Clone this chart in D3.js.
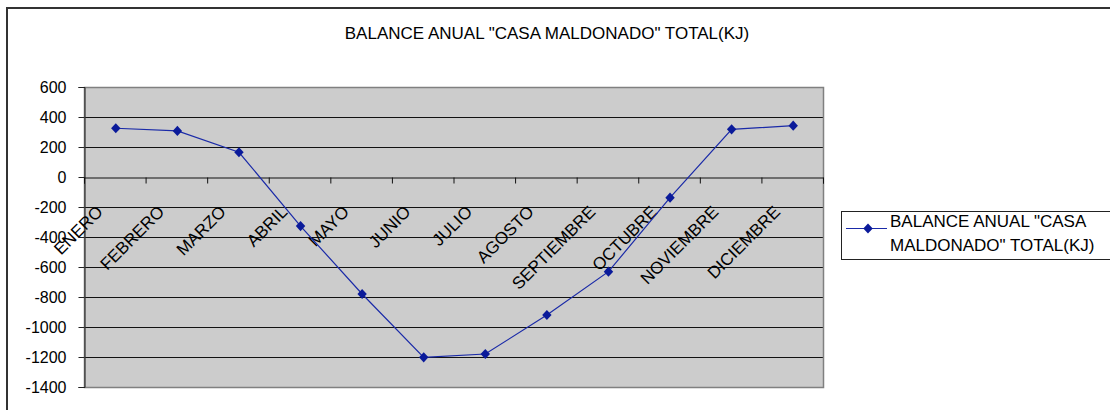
<!DOCTYPE html>
<html>
<head>
<meta charset="utf-8">
<script src="https://cdn.jsdelivr.net/npm/d3@7"></script>
<style>
  body { margin: 0; background: #fff; }
  svg { display: block; font-family: "Liberation Sans", Arial, sans-serif; }
</style>
</head>
<body>
<svg width="1110" height="410"></svg>
<script>
var months = ["ENERO", "FEBRERO", "MARZO", "ABRIL", "MAYO", "JUNIO", "JULIO",
              "AGOSTO", "SEPTIEMBRE", "OCTUBRE", "NOVIEMBRE", "DICIEMBRE"];
var balance = [325, 307, 165, -327, -780, -1202, -1180, -920, -631, -138, 318, 342];
var yTicks = [600, 400, 200, 0, -200, -400, -600, -800, -1000, -1200, -1400];
var title = 'BALANCE ANUAL "CASA MALDONADO" TOTAL(KJ)';
var legendLines = ['BALANCE ANUAL "CASA', 'MALDONADO" TOTAL(KJ)'];

var svg = d3.select("svg"),
    pLeft = 84, pRight = 823, pTop = 87, pBottom = 387,
    navy = "#0a1a9a", lineClr = "#1a2aa8";

var x = d3.scaleBand().domain(months).range([pLeft, pRight]);
var xEdge = d3.scaleLinear().domain([0, months.length]).range([pLeft, pRight]);
var y = d3.scaleLinear().domain([-1400, 600]).range([pBottom, pTop]);
var cx = d => x(d) + x.bandwidth() / 2 + 1;

// outer chart border
svg.append("rect")
  .attr("x", 7).attr("y", 8).attr("width", 1120).attr("height", 420)
  .style("fill", "none").style("stroke", "#333").style("stroke-width", 2);

// title
svg.append("text")
  .attr("x", 547).attr("y", 39)
  .attr("text-anchor", "middle")
  .style("font-size", "17px")
  .text(title);

// plot area
svg.append("rect")
  .attr("x", pLeft).attr("y", pTop).attr("width", pRight - pLeft).attr("height", pBottom - pTop)
  .style("fill", "#cccccc");

// gridlines
svg.append("g").selectAll("line")
  .data(yTicks.filter(d => d < 600 && d > -1400 && d !== 0))
  .enter().append("line")
  .attr("x1", pLeft).attr("x2", pRight)
  .attr("y1", d => Math.round(y(d)) + 0.5).attr("y2", d => Math.round(y(d)) + 0.5)
  .style("stroke", "#111").style("stroke-width", 1);

svg.append("rect")
  .attr("x", pLeft + 0.5).attr("y", pTop + 0.5).attr("width", pRight - pLeft).attr("height", pBottom - pTop)
  .style("fill", "none").style("stroke", "#808080").style("stroke-width", 1.5);

// y axis
var yAxis = svg.append("g")
  .attr("transform", "translate(" + (pLeft + 0.5) + ",0)")
  .call(d3.axisLeft(y).tickValues(yTicks).tickSize(6).tickPadding(12).tickFormat(d => String(d)));
yAxis.select(".domain").style("stroke", "#222");
yAxis.selectAll("line").style("stroke", "#222");
yAxis.selectAll("text").style("font-size", "16px").style("fill", "#000")
  .style("font-family", "'Liberation Sans', Arial, sans-serif");

// zero axis with ticks at category edges
var xAxis = svg.append("g")
  .attr("transform", "translate(0," + (Math.round(y(0)) + 0.5) + ")")
  .call(d3.axisBottom(xEdge).tickValues(d3.range(0, months.length + 1)).tickSize(6).tickFormat(""));
xAxis.select(".domain").style("stroke", "#111");
xAxis.selectAll("line").style("stroke", "#111");

// category labels
svg.append("g").selectAll("text")
  .data(months)
  .enter().append("text")
  .attr("text-anchor", "end")
  .attr("transform", d => "translate(" + (x(d) + x.bandwidth() / 2 - 11) + ",213) rotate(-45)")
  .style("font-size", "17px")
  .text(d => d);

// series
var line = d3.line()
  .x((d, i) => cx(months[i]))
  .y(d => y(d));

svg.append("path")
  .datum(balance)
  .attr("d", line)
  .style("fill", "none").style("stroke", lineClr).style("stroke-width", 1.2);

var diamond = d3.symbol().type(d3.symbolDiamond).size(30);
svg.append("g").selectAll("path")
  .data(balance)
  .enter().append("path")
  .attr("d", diamond)
  .attr("transform", (d, i) => "translate(" + cx(months[i]) + "," + y(d) + ") scale(1.6,1)")
  .style("fill", navy);

// legend
var lg = svg.append("g");
lg.append("rect")
  .attr("x", 841.5).attr("y", 211.5).attr("width", 300).attr("height", 48)
  .style("fill", "#fff").style("stroke", "#222").style("stroke-width", 1);
lg.append("line")
  .attr("x1", 846).attr("x2", 887).attr("y1", 228.5).attr("y2", 228.5)
  .style("stroke", lineClr).style("stroke-width", 1.2);
lg.append("path")
  .attr("d", diamond)
  .attr("transform", "translate(868,228.5) scale(1.6,1)")
  .style("fill", navy);
lg.selectAll("text")
  .data(legendLines)
  .enter().append("text")
  .attr("x", 890)
  .attr("y", (d, i) => 227 + i * 24)
  .style("font-size", "17px")
  .text(d => d);
</script>
</body>
</html>
